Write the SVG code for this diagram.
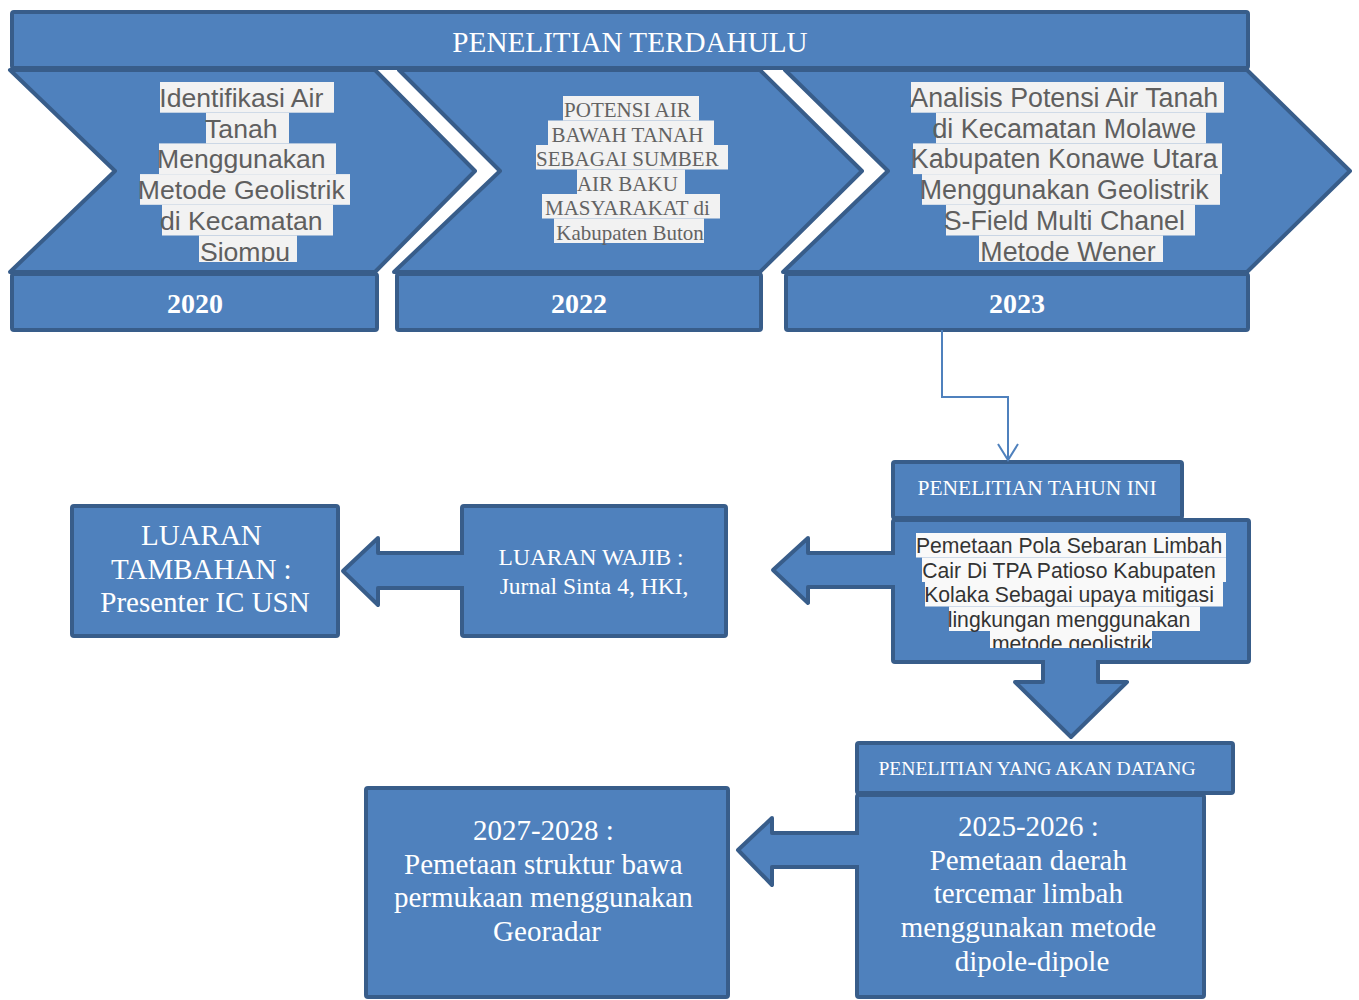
<svg xmlns="http://www.w3.org/2000/svg" width="1359" height="1000" viewBox="0 0 1359 1000">
<style>
.box{fill:#4f81bd;stroke:#385d8a;stroke-width:4;stroke-linejoin:round}
.afill{fill:#4f81bd;stroke:none}
.aline{fill:none;stroke:#385d8a;stroke-width:4;stroke-linejoin:round}
.conn{fill:none;stroke:#4f81bd;stroke-width:2}
.serif{font-family:'Liberation Serif','Times New Roman',serif;fill:#ffffff;text-anchor:middle}
.bold{font-weight:bold}
.sans{font-family:'Liberation Sans',Arial,sans-serif;text-anchor:middle}
.grey{fill:#5f5f5f}
.dark{fill:#333333}
.hl{fill:#f2f2f2}
.hl2{fill:#f9f9f9}
</style>
<defs>
<marker id="open" viewBox="-18 -12 20 24" markerWidth="20" markerHeight="24" refX="0" refY="0" orient="auto" markerUnits="userSpaceOnUse">
<path d="M-16,-10 L0,0 L-16,10" fill="none" stroke="#4f81bd" stroke-width="2"/>
</marker>
<clipPath id="clipTop"><rect x="0" y="70" width="1359" height="192"/></clipPath>
<clipPath id="clipMid"><rect x="893" y="520" width="356" height="128"/></clipPath>
</defs>

<g id="chevron-2020">
<polygon class="box" points="10,70 375,70 475,171 375,272 10,272 115,171"/>
<g clip-path="url(#clipTop)">
<rect class="hl" x="160" y="82" width="174" height="30.7"/>
<rect class="hl" x="206" y="112.7" width="83" height="30.7"/>
<rect class="hl" x="159" y="143.4" width="177" height="30.7"/>
<rect class="hl" x="140" y="174.1" width="210" height="30.7"/>
<rect class="hl" x="162" y="204.8" width="171" height="30.7"/>
<rect class="hl" x="199" y="235.5" width="98" height="30.7"/>
<text class="sans grey" font-size="26.6">
<tspan x="245" y="107">Identifikasi Air</tspan>
<tspan x="245" y="137.7">Tanah</tspan>
<tspan x="245" y="168.4">Menggunakan</tspan>
<tspan x="245" y="199.1">Metode Geolistrik</tspan>
<tspan x="245" y="229.8">di Kecamatan</tspan>
<tspan x="245" y="260.5">Siompu</tspan>
</text>
</g>
</g>

<g id="chevron-2022">
<polygon class="box" points="399,70 760,70 862,171 760,272 394,272 500,171"/>
<rect class="hl" x="563" y="96" width="136" height="24.5"/>
<rect class="hl" x="548" y="120.5" width="166" height="24.5"/>
<rect class="hl" x="536" y="145" width="192" height="24.5"/>
<rect class="hl" x="577" y="169.5" width="108" height="24.5"/>
<rect class="hl" x="542" y="194" width="178" height="24.5"/>
<rect class="hl" x="554" y="218.5" width="150" height="24.5"/>
<text class="serif grey" font-size="21" style="fill:#636363">
<tspan x="630" y="117">POTENSI AIR</tspan>
<tspan x="630" y="141.5">BAWAH TANAH</tspan>
<tspan x="630" y="166">SEBAGAI SUMBER</tspan>
<tspan x="630" y="190.5">AIR BAKU</tspan>
<tspan x="630" y="215">MASYARAKAT di</tspan>
<tspan x="630" y="239.5">Kabupaten Buton</tspan>
</text>
</g>

<g id="chevron-2023">
<polygon class="box" points="785,70 1247,70 1350,171 1247,272 783,272 888,171"/>
<g clip-path="url(#clipTop)">
<rect class="hl" x="911" y="82" width="313" height="30.7"/>
<rect class="hl" x="936" y="112.7" width="270" height="30.7"/>
<rect class="hl" x="913" y="143.4" width="309" height="30.7"/>
<rect class="hl" x="922" y="174.1" width="298" height="30.7"/>
<rect class="hl" x="946" y="204.8" width="249" height="30.7"/>
<rect class="hl" x="979" y="235.5" width="184" height="30.7"/>
<text class="sans grey" font-size="26.8">
<tspan x="1068" y="107">Analisis Potensi Air Tanah</tspan>
<tspan x="1068" y="137.7">di Kecamatan Molawe</tspan>
<tspan x="1068" y="168.4">Kabupaten Konawe Utara</tspan>
<tspan x="1068" y="199.1">Menggunakan Geolistrik</tspan>
<tspan x="1068" y="229.8">S-Field Multi Chanel</tspan>
<tspan x="1068" y="260.5">Metode Wener</tspan>
</text>
</g>
</g>

<g id="banner">
<rect class="box" x="12" y="12" width="1236" height="56" rx="2"/>
<text class="serif" x="630" y="52" font-size="29.2">PENELITIAN TERDAHULU</text>
</g>

<g id="year-2020">
<rect class="box" x="12" y="274" width="365" height="56" rx="2"/>
<text class="serif bold" x="195" y="313" font-size="28">2020</text>
</g>
<g id="year-2022">
<rect class="box" x="397" y="274" width="364" height="56" rx="2"/>
<text class="serif bold" x="579" y="313" font-size="28">2022</text>
</g>
<g id="year-2023">
<rect class="box" x="786" y="274" width="462" height="56" rx="2"/>
<text class="serif bold" x="1017" y="313" font-size="28">2023</text>
</g>

<g id="penelitian-tahun-ini">
<rect class="box" x="893" y="462" width="289" height="56" rx="2"/>
<text class="serif" x="1037" y="495" font-size="21.5">PENELITIAN TAHUN INI</text>
<rect class="box" x="893" y="520" width="356" height="142" rx="2"/>
<g clip-path="url(#clipMid)">
<rect class="hl2" x="916" y="533" width="310" height="24.5"/>
<rect class="hl2" x="922" y="557.5" width="304" height="24.5"/>
<rect class="hl2" x="925" y="582" width="298" height="24.5"/>
<rect class="hl2" x="949" y="606.5" width="251" height="24.5"/>
<rect class="hl2" x="990" y="631" width="162" height="24.5"/>
<text class="sans dark" font-size="21.2">
<tspan x="1072" y="553">Pemetaan Pola Sebaran Limbah</tspan>
<tspan x="1072" y="577.5">Cair Di TPA Patioso Kabupaten</tspan>
<tspan x="1072" y="602">Kolaka Sebagai upaya mitigasi</tspan>
<tspan x="1072" y="626.5">lingkungan menggunakan</tspan>
<tspan x="1072" y="651">metode geolistrik</tspan>
</text>
</g>
</g>

<g id="luaran-wajib">
<rect class="box" x="462" y="506" width="264" height="130" rx="2"/>
<text class="serif" font-size="23.5">
<tspan x="594" y="565">LUARAN WAJIB :</tspan>
<tspan x="594" y="594">Jurnal Sinta 4, HKI,</tspan>
</text>
</g>

<g id="luaran-tambahan">
<rect class="box" x="72" y="506" width="266" height="130" rx="2"/>
<text class="serif" font-size="29">
<tspan x="205" y="545">LUARAN</tspan>
<tspan x="205" y="578.5">TAMBAHAN :</tspan>
<tspan x="205" y="612">Presenter IC USN</tspan>
</text>
</g>

<g id="penelitian-akan-datang">
<rect class="box" x="857" y="795" width="347" height="202" rx="2"/>
<rect class="box" x="857" y="743" width="376" height="50" rx="2"/>
<text class="serif" x="1037" y="775" font-size="19.6">PENELITIAN YANG AKAN DATANG</text>
<text class="serif" font-size="29">
<tspan x="1032" y="836">2025-2026 :</tspan>
<tspan x="1032" y="869.7">Pemetaan daerah</tspan>
<tspan x="1032" y="903.4">tercemar limbah</tspan>
<tspan x="1032" y="937.1">menggunakan metode</tspan>
<tspan x="1032" y="970.8">dipole-dipole</tspan>
</text>
</g>

<g id="box-2027-2028">
<rect class="box" x="366" y="788" width="362" height="209" rx="2"/>
<text class="serif" font-size="29">
<tspan x="547" y="840">2027-2028 :</tspan>
<tspan x="547" y="873.5">Pemetaan struktur bawa</tspan>
<tspan x="547" y="907">permukaan menggunakan</tspan>
<tspan x="547" y="940.5">Georadar</tspan>
</text>
</g>

<g id="connectors">
<path class="conn" d="M942,330 V397 H1008 V460" marker-end="url(#open)"/>
<path class="afill" d="M896,553 H808 V538 L773,570 L808,603 V587 H896 Z"/>
<path class="aline" d="M895,553 H808 V538 L773,570 L808,603 V587 H895"/>
<path class="afill" d="M465,553 H378 V538 L343,571 L378,605 V588 H465 Z"/>
<path class="aline" d="M464,553 H378 V538 L343,571 L378,605 V588 H464"/>
<path class="afill" d="M1043,659 V682 H1015 L1071,737 L1127,682 H1098 V659 Z"/>
<path class="aline" d="M1043,660 V682 H1015 L1071,737 L1127,682 H1098 V660"/>
<path class="afill" d="M860,833 H772 V818 L738,850 L772,885 V867 H860 Z"/>
<path class="aline" d="M859,833 H772 V818 L738,850 L772,885 V867 H859"/>
</g>
</svg>
